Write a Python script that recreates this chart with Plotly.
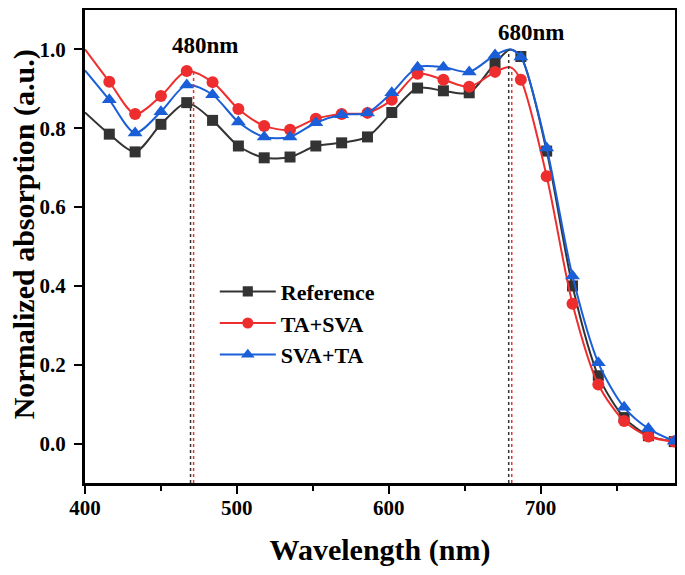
import plotly.graph_objects as go

# ---- data ----
wavelength = [400, 416, 433, 450, 467, 484, 501, 518, 535, 552, 569, 586, 602,
              619, 636, 653, 670, 680, 687, 704, 721, 738, 755, 771, 788]
reference = [0.840, 0.785, 0.740, 0.810, 0.865, 0.820, 0.755, 0.725, 0.727, 0.755,
             0.763, 0.778, 0.840, 0.902, 0.895, 0.890, 0.965, 1.000, 0.982, 0.742,
             0.400, 0.172, 0.066, 0.020, 0.005]
ta_sva = [1.000, 0.918, 0.836, 0.882, 0.945, 0.917, 0.849, 0.806, 0.796, 0.824,
          0.836, 0.839, 0.872, 0.938, 0.923, 0.905, 0.943, 0.955, 0.923, 0.678,
          0.355, 0.150, 0.057, 0.018, 0.005]
sva_ta = [0.947, 0.872, 0.788, 0.842, 0.910, 0.885, 0.816, 0.778, 0.778, 0.814,
          0.834, 0.839, 0.890, 0.955, 0.955, 0.943, 0.986, 1.000, 0.981, 0.750,
          0.425, 0.205, 0.092, 0.038, 0.006]
unmarked = [400, 680]          # line points without a symbol

# peak guide lines (wavelength, height) for each series
ref_peaks_x = [469.5, 679.0]
ref_peaks_y = [0.865, 1.000]
ta_peaks_x = [471.5, 681.0]
ta_peaks_y = [0.945, 0.955]
peak_labels = ["480nm", "680nm"]
peak_label_x = [479, 694]
peak_label_y = [1.01, 1.044]

x_ticks = [400, 500, 600, 700]
y_ticks = [0.0, 0.2, 0.4, 0.6, 0.8, 1.0]

FONT = "Liberation Serif"
BLACK = "#333333"
RED = "#ee2e2e"
BLUE = "#1a5fd8"

fig = go.Figure()

def sizes(s):
    return [0 if w in unmarked else s for w in wavelength]

series = [
    ("Reference", reference, BLACK, "square", 11),
    ("TA+SVA", ta_sva, RED, "circle", 12),
    ("SVA+TA", sva_ta, BLUE, "triangle-up", 13),
]
for name, ys, col, sym, sz in series:
    fig.add_trace(go.Scatter(
        x=wavelength, y=ys, name="<b>%s</b>" % name, mode="lines+markers",
        line=dict(color=col, width=2, shape="spline", smoothing=0.8),
        marker=dict(symbol=sym, size=sizes(sz), color=col, opacity=1,
                    line=dict(width=0)),
    ))

for px, py, col in [(ref_peaks_x, ref_peaks_y, BLACK), (ta_peaks_x, ta_peaks_y, RED)]:
    for xv, yv in zip(px, py):
        fig.add_trace(go.Scatter(
            x=[xv, xv], y=[-0.1, yv], mode="lines", showlegend=False,
            line=dict(color=col, width=1.5, dash="dot"), hoverinfo="skip"))

for txt, xv, yv in zip(peak_labels, peak_label_x, peak_label_y):
    fig.add_annotation(x=xv, y=yv, text="<b>%s</b>" % txt, showarrow=False,
                       font=dict(family=FONT, size=23, color="black"),
                       xanchor="center", yanchor="middle")

# y-axis title as a rotated annotation (so it can sit close to the page edge)
fig.add_annotation(xref="paper", yref="paper", x=-0.104, y=0.525,
                   text="<b>Normalized absorption (a.u.)</b>", textangle=-90,
                   showarrow=False, xanchor="center", yanchor="middle",
                   font=dict(family=FONT, size=30, color="black"))

axis_common = dict(showline=True, linecolor="black", linewidth=3, mirror=True,
                   ticks="outside", tickwidth=2, ticklen=8, tickcolor="black",
                   showgrid=False, zeroline=False,
                   tickfont=dict(family=FONT, size=21, color="black"))

fig.update_xaxes(range=[400, 788.5], tickvals=x_ticks,
                 ticktext=["<b>%d</b>" % v for v in x_ticks],
                 ticklabelstandoff=-4,
                 minor=dict(dtick=50, tick0=400, ticks="outside", ticklen=5,
                            tickwidth=2, tickcolor="black"),
                 title=dict(text="<b>Wavelength (nm)</b>", standoff=20,
                            font=dict(family=FONT, size=30, color="black")),
                 **axis_common)
fig.update_yaxes(range=[-0.1, 1.1], tickvals=y_ticks,
                 ticktext=["<b>%.1f</b>" % v for v in y_ticks],
                 ticklabelstandoff=4,
                 **axis_common)

fig.update_layout(
    width=685, height=575,
    margin=dict(l=77, r=18, t=1.5, b=99.5, autoexpand=False),
    plot_bgcolor="white", paper_bgcolor="white",
    showlegend=True,
    legend=dict(x=0.22, y=0.449, xanchor="left", yanchor="top",
                bgcolor="rgba(0,0,0,0)",
                font=dict(family=FONT, size=22, color="black"),
                itemwidth=56, tracegroupgap=0),
)

fig.write_html("out.html")
